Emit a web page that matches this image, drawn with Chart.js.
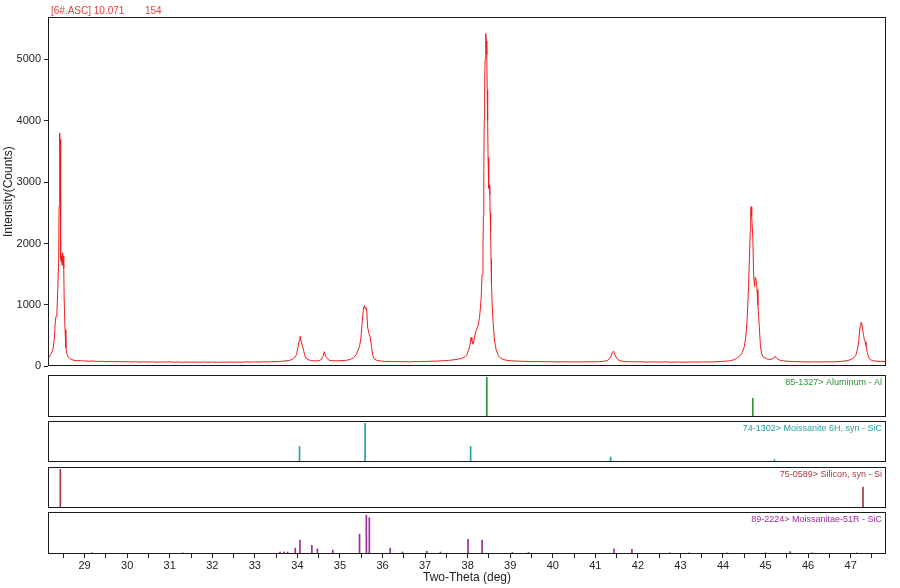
<!DOCTYPE html>
<html>
<head>
<meta charset="utf-8">
<script src="https://cdn.jsdelivr.net/npm/chart.js@4.4.1/dist/chart.umd.min.js"></script>
<style>
body { margin: 0; background: #fff; }
#wrap { position: relative; width: 900px; height: 588px; }
#wrap canvas { position: absolute; left: 0; }
</style>
</head>
<body>
<div id="wrap">
  <canvas id="scan" width="900" height="376" style="top:0"></canvas>
  <canvas id="cardAl" width="900" height="45" style="top:374px"></canvas>
  <canvas id="card6H" width="900" height="44" style="top:420px"></canvas>
  <canvas id="cardSi" width="900" height="44" style="top:466px"></canvas>
  <canvas id="card51R" width="900" height="77" style="top:511px"></canvas>
</div>
<script>
// measured scan, 6#.ASC
const twoTheta = [
  28.14, 28.18, 28.22, 28.26, 28.29, 28.31, 28.33, 28.35, 28.37, 28.39, 28.40, 28.41, 28.415, 28.42, 28.425, 28.43, 28.435, 28.44, 28.445, 28.45,
  28.46, 28.47, 28.48, 28.49, 28.50, 28.51, 28.52, 28.54, 28.56, 28.59, 28.62, 28.66, 28.70, 28.75, 28.80, 28.85, 28.90, 28.95, 29.0, 29.1,
  29.2, 29.3, 29.4, 29.5, 29.6, 29.7, 29.8, 29.9, 30.0, 30.1, 30.2, 30.3, 30.4, 30.5, 30.6, 30.7, 30.8, 30.9, 31.0, 31.1,
  31.2, 31.3, 31.4, 31.5, 31.6, 31.7, 31.8, 31.9, 32.0, 32.1, 32.2, 32.3, 32.4, 32.5, 32.6, 32.7, 32.8, 32.9, 33.0, 33.1,
  33.2, 33.3, 33.4, 33.5, 33.6, 33.7, 33.8, 33.88, 33.94, 33.98, 34.01, 34.04, 34.06, 34.08, 34.10, 34.12, 34.15, 34.18, 34.22, 34.27,
  34.33, 34.40, 34.48, 34.55, 34.60, 34.63, 34.66, 34.68, 34.70, 34.74, 34.80, 34.88, 34.95, 35.05, 35.15, 35.25, 35.32, 35.38, 35.42, 35.46,
  35.49, 35.52, 35.55, 35.57, 35.59, 35.61, 35.63, 35.65, 35.68, 35.71, 35.74, 35.77, 35.80, 35.86, 35.95, 36.05, 36.15, 36.25, 36.35, 36.45,
  36.55, 36.65, 36.75, 36.85, 36.95, 37.05, 37.15, 37.25, 37.35, 37.45, 37.55, 37.65, 37.75, 37.85, 37.92, 37.98, 38.02, 38.05, 38.08, 38.10,
  38.13, 38.16, 38.19, 38.22, 38.25, 38.28, 38.30, 38.32, 38.34, 38.36, 38.37, 38.38, 38.39, 38.40, 38.41, 38.42, 38.43, 38.44, 38.45, 38.46,
  38.47, 38.48, 38.49, 38.50, 38.51, 38.52, 38.53, 38.54, 38.55, 38.56, 38.58, 38.60, 38.63, 38.67, 38.72, 38.78, 38.85, 38.95, 39.05, 39.2,
  39.35, 39.5, 39.65, 39.8, 39.95, 40.1, 40.25, 40.4, 40.55, 40.7, 40.85, 41.0, 41.1, 41.2, 41.28, 41.34, 41.37, 41.40, 41.43, 41.46,
  41.49, 41.52, 41.58, 41.65, 41.75, 41.9, 42.05, 42.2, 42.35, 42.5, 42.65, 42.8, 42.95, 43.1, 43.25, 43.4, 43.55, 43.7, 43.85, 43.95,
  44.05, 44.15, 44.24, 44.32, 44.39, 44.45, 44.50, 44.54, 44.57, 44.60, 44.62, 44.64, 44.65, 44.66, 44.67, 44.68, 44.70, 44.72, 44.74, 44.76,
  44.78, 44.80, 44.82, 44.85, 44.88, 44.91, 44.95, 45.02, 45.10, 45.18, 45.22, 45.26, 45.32, 45.42, 45.55, 45.7, 45.85, 46.0, 46.15, 46.3,
  46.45, 46.6, 46.75, 46.88, 46.98, 47.06, 47.12, 47.16, 47.19, 47.22, 47.24, 47.26, 47.28, 47.30, 47.32, 47.34, 47.36, 47.39, 47.42, 47.46,
  47.52, 47.6, 47.7, 47.85
];
const counts = [
  130, 170, 210, 290, 460, 720, 820, 900, 1250, 1700, 2600, 3250, 3150, 3800, 3250, 3700, 3200, 2400, 1750, 1700,
  1800, 1650, 1850, 1700, 1800, 1600, 1100, 600, 300, 190, 150, 125, 110, 100, 95, 92, 98, 88, 90, 84,
  88, 80, 84, 78, 82, 76, 80, 74, 78, 72, 76, 70, 75, 70, 74, 68, 73, 70, 74, 68,
  72, 67, 72, 68, 71, 66, 72, 68, 71, 66, 70, 68, 72, 67, 71, 68, 73, 70, 74, 70,
  75, 72, 78, 76, 82, 88, 95, 115, 150, 190, 300, 420, 490, 430, 380, 330, 250, 160, 120, 105,
  95, 90, 92, 105, 160, 240, 170, 150, 130, 100, 95, 92, 90, 95, 100, 115, 140, 190, 260, 330,
  450, 700, 930, 990, 940, 960, 900, 640, 540, 480, 330, 180, 130, 100, 88, 80, 82, 76, 80, 74,
  78, 74, 80, 76, 82, 80, 86, 84, 90, 92, 98, 105, 115, 130, 150, 180, 260, 330, 470, 420,
  360, 470, 560, 620, 680, 800, 950, 1150, 1500, 1900, 2450, 3200, 4000, 4600, 5000, 5200, 5420, 5300, 5080, 4500,
  4000, 3400, 2950, 2900, 2950, 2800, 2500, 2200, 1750, 1350, 950, 700, 430, 270, 180, 130, 110, 95, 90, 86,
  82, 78, 80, 75, 78, 72, 76, 72, 75, 72, 76, 74, 78, 84, 95, 130, 170, 230, 250, 190,
  150, 115, 92, 82, 78, 74, 76, 70, 74, 70, 73, 68, 72, 68, 72, 70, 74, 72, 78, 80,
  84, 90, 105, 130, 165, 220, 320, 500, 800, 1300, 1750, 2200, 2500, 2600, 2580, 2450, 2100, 1500, 1300, 1450,
  1400, 1250, 1000, 680, 330, 200, 150, 125, 110, 130, 165, 135, 105, 90, 82, 78, 76, 72, 75, 72,
  76, 74, 80, 90, 105, 130, 180, 280, 420, 650, 720, 700, 600, 520, 440, 400, 340, 230, 150, 110,
  92, 85, 80, 78
];

// reference cards (relative intensity)
const alPos = [38.45, 44.70];
const alInt = [100, 47];
const sic6hPos = [34.05, 35.59, 38.07, 41.36, 45.21];
const sic6hInt = [40, 100, 40, 13, 6];
const siPos = [28.43, 47.29];
const siInt = [100, 54];
const sic51rPos = [29.17, 31.31, 33.59, 33.69, 33.77, 33.95, 34.06, 34.34, 34.47, 34.83, 35.46, 35.62, 35.69, 36.18, 36.47,
  37.04, 37.36, 38.01, 38.34, 39.05, 39.43, 41.44, 41.86, 42.75, 43.2, 44.1, 45.0, 45.58, 46.1, 47.14];
const sic51rInt = [3, 3, 5, 5, 5, 15, 35, 22, 13, 10, 50, 98, 92, 15, 5,
  7, 5, 37, 35, 4, 4, 13, 12, 3, 3, 3, 3, 6, 3, 3];

const yTicks = [0, 1000, 2000, 3000, 4000, 5000];
const xTickLabels = [29, 30, 31, 32, 33, 34, 35, 36, 37, 38, 39, 40, 41, 42, 43, 44, 45, 46, 47];

const X_MIN = 28.14;
const X_MAX = 47.83;
const FONT = '"Liberation Sans", Arial, sans-serif';

Chart.defaults.font.family = FONT;
Chart.defaults.color = '#222';

const framePlugin = {
  id: 'frame',
  afterDraw(chart) {
    const a = chart.chartArea;
    const ctx = chart.ctx;
    ctx.save();
    ctx.strokeStyle = '#1a1a1a';
    ctx.lineWidth = 1;
    ctx.strokeRect(Math.round(a.left) + 0.5, Math.round(a.top) + 0.5,
      Math.round(a.right - a.left) - 1, Math.round(a.bottom - a.top) - 1);
    ctx.restore();
  }
};

const textPlugin = {
  id: 'cardText',
  afterDraw(chart, args, opts) {
    if (!opts.items) return;
    const ctx = chart.ctx;
    ctx.save();
    opts.items.forEach(t => {
      ctx.font = t.size + 'px ' + FONT;
      ctx.fillStyle = t.color;
      ctx.textAlign = t.align;
      ctx.textBaseline = 'middle';
      ctx.fillText(t.text, t.x, t.y);
    });
    ctx.restore();
  }
};

new Chart(document.getElementById('scan'), {
  type: 'line',
  data: {
    datasets: [{
      data: twoTheta.map((t, i) => ({ x: t, y: counts[i] })),
      borderColor: '#f01c1c',
      borderWidth: 1,
      pointRadius: 0,
      tension: 0
    }]
  },
  options: {
    responsive: false,
    animation: false,
    devicePixelRatio: 1,
    layout: { padding: { top: 17, right: 14, bottom: 4, left: 0 } },
    scales: {
      x: { type: 'linear', min: X_MIN, max: X_MAX, display: false },
      y: {
        min: 0,
        max: 5690,
        afterBuildTicks: (scale) => { scale.ticks = yTicks.map(v => ({ value: v })); },
        afterFit: (scale) => { scale.width = 48; },
        grid: { drawOnChartArea: false, tickLength: 4, color: '#222' },
        border: { display: false },
        ticks: { font: { size: 11 }, padding: 3, color: '#222', callback: (value) => String(value) },
        title: { display: true, text: 'Intensity(Counts)', font: { size: 12 }, color: '#222', padding: { top: 1, bottom: 0 } }
      }
    },
    plugins: {
      legend: { display: false },
      tooltip: { enabled: false },
      cardText: {
        items: [
          { text: '[6#.ASC] 10.071', x: 51, y: 11, size: 10, color: '#e8393c', align: 'left' },
          { text: '154', x: 145, y: 11, size: 10, color: '#e8393c', align: 'left' }
        ]
      }
    }
  },
  plugins: [framePlugin, textPlugin]
});

function makeCard(id, positions, heights, color, label, withAxis) {
  const xScale = { type: 'linear', min: X_MIN, max: X_MAX, offset: false, display: false, grid: { offset: false } };
  if (withAxis) {
    Object.assign(xScale, {
      display: true,
      afterBuildTicks: (scale) => {
        const ticks = [];
        for (let v = 28.5; v <= 47.5; v += 0.5) ticks.push({ value: v });
        scale.ticks = ticks;
      },
      afterFit: (scale) => { scale.height = 34; },
      grid: { drawOnChartArea: false, tickLength: 4, color: '#222', offset: false },
      border: { display: false },
      ticks: {
        autoSkip: false,
        maxRotation: 0,
        padding: 1,
        font: { size: 11 },
        color: '#222',
        callback: (value) => xTickLabels.includes(value) ? String(value) : ''
      },
      title: { display: true, text: 'Two-Theta (deg)', font: { size: 12 }, color: '#222', padding: { top: 0, bottom: 3 } }
    });
  }
  new Chart(document.getElementById(id), {
    type: 'bar',
    data: {
      datasets: [{
        data: positions.map((p, i) => ({ x: p, y: heights[i] })),
        backgroundColor: color,
        barThickness: 1
      }]
    },
    options: {
      responsive: false,
      animation: false,
      devicePixelRatio: 1,
      layout: { padding: { top: 1, right: 14, bottom: withAxis ? 0 : 2, left: 48 } },
      scales: {
        x: xScale,
        y: { min: 0, max: 106, display: false }
      },
      plugins: {
        legend: { display: false },
        tooltip: { enabled: false },
        cardText: { items: [{ text: label, x: 882, y: 9, size: 9, color: color, align: 'right' }] }
      }
    },
    plugins: [framePlugin, textPlugin]
  });
}

makeCard('cardAl', alPos, alInt, '#2f912f', '85-1327> Aluminum - Al', false);
makeCard('card6H', sic6hPos, sic6hInt, '#26a0a0', '74-1302> Moissanite 6H, syn - SiC', false);
makeCard('cardSi', siPos, siInt, '#a63a3a', '75-0589> Silicon, syn - Si', false);
makeCard('card51R', sic51rPos, sic51rInt, '#9a2d9a', '89-2224> Moissanitae-51R - SiC', true);
</script>
</body>
</html>
